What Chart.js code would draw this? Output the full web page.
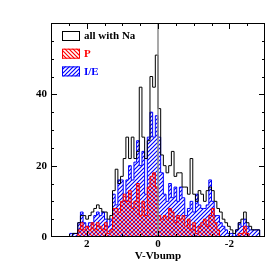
<!DOCTYPE html>
<html>
<head>
<meta charset="utf-8">
<script src="https://cdn.jsdelivr.net/npm/chart.js@4.4.1/dist/chart.umd.min.js"></script>
<style>
  html, body { margin: 0; padding: 0; background: #fff; }
</style>
</head>
<body>
<canvas id="bump_chart" width="279" height="279"></canvas>
<script>
// bins run from V-Vbump = 2.475 down to -2.85, width 0.075
const binStart = 2.475;
const binWidth = 0.075;

const allWithNa = [0, 1, 1, 4, 6, 6, 5, 6, 7, 8, 9, 8, 7, 7, 5, 6, 13, 19, 15, 17,
    22, 28, 22, 28, 22, 24, 42, 28, 22, 27, 45, 42, 51, 36, 23, 20, 18, 20, 24, 17,
    18, 18, 14, 14, 12, 22, 12, 10, 13, 12, 10, 13, 14, 13, 10, 8, 7, 5, 4, 3,
    2, 1, 2, 4, 5, 7, 4, 3, 2, 2, 2];
const ieGroup = [1, 1, 1, 4, 7, 4, 3, 4, 4, 6, 7, 6, 7, 5, 3, 5, 12, 9, 16, 16,
    10, 16, 20, 16, 21, 27, 20, 24, 12, 28, 35, 28, 34, 28, 18, 12, 10, 15, 11, 14,
    10, 14, 11, 6, 8, 10, 7, 12, 9, 8, 8, 9, 16, 10, 6, 6, 4, 3, 2, 1,
    1, 0, 2, 4, 3, 5, 3, 2, 2, 2, 2];
const pGroup = [0, 0, 0, 2, 4, 2, 3, 2, 4, 2, 4, 3, 2, 4, 1, 2, 8, 8, 7, 10,
    12, 10, 13, 8, 10, 15, 6, 10, 6, 14, 17, 18, 14, 6, 5, 6, 5, 8, 7, 4,
    6, 5, 6, 3, 5, 2, 4, 1, 3, 4, 5, 3, 6, 8, 4, 2, 0, 0, 0, 0,
    0, 0, 0, 1, 1, 3, 1, 0, 0, 0, 0];

const xTickLabels = [2, 0, -2];
const yTickLabels = [0, 20, 40];
const legendLabels = ["all with Na", "P", "I/E"];

const serif = '"Liberation Serif", "DejaVu Serif", serif';

// stepped outline points, in increasing x so that 'before' stepping holds each bin value
function stepPoints(counts) {
    const n = counts.length;
    const pts = [{ x: binStart - n * binWidth, y: 0 }];
    for (let i = n - 1; i >= 0; i--) {
        pts.push({ x: binStart - (i + 1) * binWidth, y: counts[i] });
    }
    pts.push({ x: binStart, y: 0 });
    return pts;
}

function hatch(color, rising) {
    const s = 4;
    const c = document.createElement("canvas");
    c.width = s;
    c.height = s;
    const g = c.getContext("2d");
    g.strokeStyle = color;
    g.lineWidth = 1.2;
    g.beginPath();
    if (rising) {
        g.moveTo(-1, s + 1); g.lineTo(s + 1, -1);
        g.moveTo(-1, 1); g.lineTo(1, -1);
        g.moveTo(s - 1, s + 1); g.lineTo(s + 1, s - 1);
    } else {
        g.moveTo(-1, -1); g.lineTo(s + 1, s + 1);
        g.moveTo(-1, s - 1); g.lineTo(1, s + 1);
        g.moveTo(s - 1, -1); g.lineTo(s + 1, 1);
    }
    g.stroke();
    return g.createPattern(c, "repeat");
}

const redHatch = hatch("#ff0000", false);
const blueHatch = hatch("#0000ff", true);

// frame with inward ticks on all four sides, plus the legend
const frameAndLegend = {
    id: "frameAndLegend",
    afterDraw(chart) {
        const { ctx, chartArea: a, scales: { x, y } } = chart;
        ctx.save();
        ctx.strokeStyle = "#000";
        ctx.lineWidth = 1;
        ctx.strokeRect(a.left + 0.5, a.top + 0.5, a.right - a.left - 1, a.bottom - a.top - 1);
        ctx.beginPath();
        for (let v = 5; v < 60; v += 5) {
            const py = Math.round(y.getPixelForValue(v)) + 0.5;
            const len = v % 20 === 0 ? 6 : 3;
            ctx.moveTo(a.left, py); ctx.lineTo(a.left + len, py);
            ctx.moveTo(a.right, py); ctx.lineTo(a.right - len, py);
        }
        for (let v = -2.5; v <= 2.5; v += 0.5) {
            const px = Math.round(x.getPixelForValue(v)) + 0.5;
            const len = Math.abs(v % 2) < 1e-9 ? 6 : 3;
            ctx.moveTo(px, a.bottom); ctx.lineTo(px, a.bottom - len);
            ctx.moveTo(px, a.top); ctx.lineTo(px, a.top + len);
        }
        ctx.stroke();

        // legend
        const fills = [null, redHatch, blueHatch];
        const edges = ["#000", "#ff0000", "#0000ff"];
        ctx.font = "bold 11px " + serif;
        ctx.textBaseline = "middle";
        legendLabels.forEach((label, i) => {
            const bx = a.left + 11, by = a.top + 8 + i * 17.7;
            if (fills[i]) {
                ctx.fillStyle = fills[i];
                ctx.fillRect(bx, by, 18, 10);
            }
            ctx.strokeStyle = edges[i];
            ctx.strokeRect(bx + 0.5, by + 0.5, 17, 9);
            ctx.fillStyle = edges[i];
            ctx.fillText(label, bx + 22, by + 5.5);
        });
        ctx.restore();
    },
};

new Chart(document.getElementById("bump_chart"), {
    type: "line",
    data: {
        datasets: [
            {
                label: "zero",
                data: [{ x: 0, y: 0 }, { x: 0, y: 60 }],
                borderColor: "#8c8c8c",
                borderWidth: 1.5,
                pointRadius: 0,
                fill: false,
            },
            {
                label: legendLabels[0],
                data: stepPoints(allWithNa),
                stepped: "before",
                borderColor: "#000",
                borderWidth: 1,
                pointRadius: 0,
                fill: false,
            },
            {
                label: legendLabels[1],
                data: stepPoints(pGroup),
                stepped: "before",
                borderColor: "#ff0000",
                borderWidth: 1,
                backgroundColor: redHatch,
                pointRadius: 0,
                fill: "origin",
            },
            {
                label: legendLabels[2],
                data: stepPoints(ieGroup),
                stepped: "before",
                borderColor: "#0000ff",
                borderWidth: 1,
                backgroundColor: blueHatch,
                pointRadius: 0,
                fill: "origin",
            },
        ],
    },
    options: {
        responsive: false,
        animation: false,
        devicePixelRatio: 1,
        layout: { padding: { top: 23, right: 14, left: 0, bottom: 0 } },
        plugins: {
            legend: { display: false },
            tooltip: { enabled: false },
        },
        scales: {
            x: {
                type: "linear",
                min: -3,
                max: 3,
                reverse: true,
                grid: { display: false, drawTicks: false },
                border: { display: false },
                afterBuildTicks: (scale) => {
                    scale.ticks = xTickLabels.map((v) => ({ value: v }));
                },
                afterFit: (scale) => { scale.height = 42; },
                ticks: {
                    color: "#000",
                    padding: 1,
                    maxRotation: 0,
                    font: { family: serif, size: 11, weight: "bold" },
                },
                title: {
                    display: true,
                    text: "V-Vbump",
                    color: "#000",
                    padding: { top: 0, bottom: 16 },
                    font: { family: serif, size: 11, weight: "bold" },
                },
            },
            y: {
                min: 0,
                max: 60,
                grid: { display: false, drawTicks: false },
                border: { display: false },
                afterBuildTicks: (scale) => {
                    scale.ticks = yTickLabels.map((v) => ({ value: v }));
                },
                afterFit: (scale) => { scale.width = 51; },
                ticks: {
                    color: "#000",
                    padding: 4,
                    font: { family: serif, size: 11, weight: "bold" },
                },
            },
        },
    },
    plugins: [frameAndLegend],
});
</script>
</body>
</html>
